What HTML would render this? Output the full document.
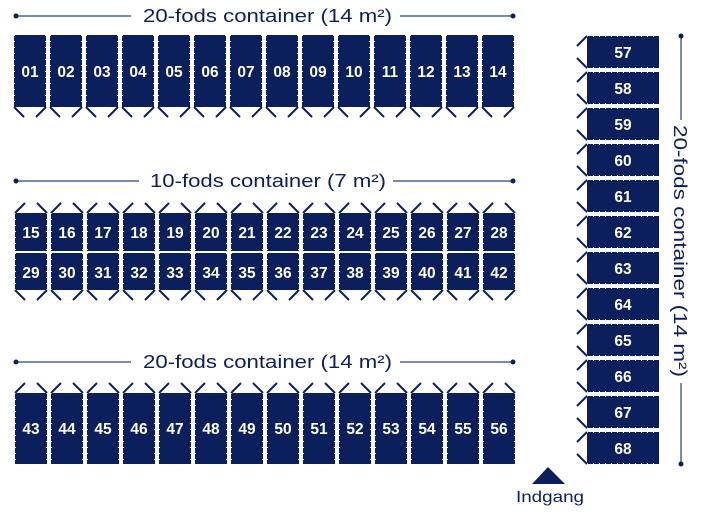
<!DOCTYPE html>
<html><head><meta charset="utf-8"><style>
html,body{margin:0;padding:0;background:#fff;}
svg{display:block}
text{font-family:"Liberation Sans",sans-serif;}
.n{fill:#fff;font-size:15.5px;text-anchor:middle;font-weight:bold;}
.h{fill:#0b1f5c;font-size:18px;}
</style></head><body>
<svg width="706" height="516" viewBox="0 0 706 516" xmlns="http://www.w3.org/2000/svg">
<defs>
<g id="b1"><rect x="0" y="0" width="32" height="72" fill="#0b1f5c"/><line x1="0.5" y1="0" x2="0.5" y2="72" stroke="#fff" stroke-dasharray="1 5"/><line x1="31.5" y1="0" x2="31.5" y2="72" stroke="#fff" stroke-dasharray="1 5"/><path d="M0 72 L10 82 M32 72 L22 82" stroke="#0b1f5c" stroke-width="2" fill="none"/></g>
<g id="b2"><rect x="0" y="0" width="32" height="38" fill="#0b1f5c"/><line x1="0.5" y1="0" x2="0.5" y2="38" stroke="#fff" stroke-dasharray="1 5"/><line x1="31.5" y1="0" x2="31.5" y2="38" stroke="#fff" stroke-dasharray="1 5"/><path d="M0 0 L10 -10 M32 0 L22 -10" stroke="#0b1f5c" stroke-width="2" fill="none"/></g>
<g id="b3"><rect x="0" y="0" width="32" height="37" fill="#0b1f5c"/><line x1="0.5" y1="0" x2="0.5" y2="37" stroke="#fff" stroke-dasharray="1 5"/><line x1="31.5" y1="0" x2="31.5" y2="37" stroke="#fff" stroke-dasharray="1 5"/><path d="M0 37 L10 47 M32 37 L22 47" stroke="#0b1f5c" stroke-width="2" fill="none"/></g>
<g id="b4"><rect x="0" y="0" width="32" height="71" fill="#0b1f5c"/><line x1="0.5" y1="0" x2="0.5" y2="71" stroke="#fff" stroke-dasharray="1 5"/><line x1="31.5" y1="0" x2="31.5" y2="71" stroke="#fff" stroke-dasharray="1 5"/><path d="M0 0 L10 -10 M32 0 L22 -10" stroke="#0b1f5c" stroke-width="2" fill="none"/></g>
<g id="r"><rect x="0" y="0" width="72" height="32" fill="#0b1f5c"/><line x1="0" y1="0.5" x2="72" y2="0.5" stroke="#fff" stroke-dasharray="1 5"/><line x1="0" y1="31.5" x2="72" y2="31.5" stroke="#fff" stroke-dasharray="1 5"/><path d="M0 0 L-10 10 M0 32 L-10 22" stroke="#0b1f5c" stroke-width="2" fill="none"/></g>
</defs>
<g stroke="#7b8bb0" stroke-width="2">
<line x1="16" y1="16" x2="131" y2="16"/><line x1="400" y1="16" x2="513" y2="16"/>
<line x1="16" y1="181" x2="139" y2="181"/><line x1="393" y1="181" x2="513" y2="181"/>
<line x1="16" y1="362" x2="131" y2="362"/><line x1="400" y1="362" x2="513" y2="362"/>
<line x1="681" y1="36" x2="681" y2="120"/><line x1="681" y1="383" x2="681" y2="464"/>
</g>
<g fill="#0b1f5c"><circle cx="16" cy="16" r="2.5"/><circle cx="513" cy="16" r="2.5"/><circle cx="16" cy="181" r="2.5"/><circle cx="513" cy="181" r="2.5"/><circle cx="16" cy="362" r="2.5"/><circle cx="513" cy="362" r="2.5"/><circle cx="681" cy="36" r="2.5"/><circle cx="681" cy="464" r="2.5"/></g>
<text class="h" x="143" y="22" textLength="249" lengthAdjust="spacingAndGlyphs">20-fods container (14 m²)</text>
<text class="h" x="150" y="187" textLength="236" lengthAdjust="spacingAndGlyphs">10-fods container (7 m²)</text>
<text class="h" x="143" y="368" textLength="249" lengthAdjust="spacingAndGlyphs">20-fods container (14 m²)</text>
<text class="h" transform="translate(674,125) rotate(90)" x="0" y="0" textLength="252" lengthAdjust="spacingAndGlyphs">20-fods container (14 m²)</text>

<use href="#b1" x="14" y="35"/><use href="#b1" x="50" y="35"/><use href="#b1" x="86" y="35"/><use href="#b1" x="122" y="35"/><use href="#b1" x="158" y="35"/><use href="#b1" x="194" y="35"/><use href="#b1" x="230" y="35"/><use href="#b1" x="266" y="35"/><use href="#b1" x="302" y="35"/><use href="#b1" x="338" y="35"/><use href="#b1" x="374" y="35"/><use href="#b1" x="410" y="35"/><use href="#b1" x="446" y="35"/><use href="#b1" x="482" y="35"/>
<use href="#b2" x="15" y="213"/><use href="#b2" x="51" y="213"/><use href="#b2" x="87" y="213"/><use href="#b2" x="123" y="213"/><use href="#b2" x="159" y="213"/><use href="#b2" x="195" y="213"/><use href="#b2" x="231" y="213"/><use href="#b2" x="267" y="213"/><use href="#b2" x="303" y="213"/><use href="#b2" x="339" y="213"/><use href="#b2" x="375" y="213"/><use href="#b2" x="411" y="213"/><use href="#b2" x="447" y="213"/><use href="#b2" x="483" y="213"/>
<use href="#b3" x="15" y="253"/><use href="#b3" x="51" y="253"/><use href="#b3" x="87" y="253"/><use href="#b3" x="123" y="253"/><use href="#b3" x="159" y="253"/><use href="#b3" x="195" y="253"/><use href="#b3" x="231" y="253"/><use href="#b3" x="267" y="253"/><use href="#b3" x="303" y="253"/><use href="#b3" x="339" y="253"/><use href="#b3" x="375" y="253"/><use href="#b3" x="411" y="253"/><use href="#b3" x="447" y="253"/><use href="#b3" x="483" y="253"/>
<use href="#b4" x="15" y="393"/><use href="#b4" x="51" y="393"/><use href="#b4" x="87" y="393"/><use href="#b4" x="123" y="393"/><use href="#b4" x="159" y="393"/><use href="#b4" x="195" y="393"/><use href="#b4" x="231" y="393"/><use href="#b4" x="267" y="393"/><use href="#b4" x="303" y="393"/><use href="#b4" x="339" y="393"/><use href="#b4" x="375" y="393"/><use href="#b4" x="411" y="393"/><use href="#b4" x="447" y="393"/><use href="#b4" x="483" y="393"/>
<use href="#r" x="587" y="36"/><use href="#r" x="587" y="72"/><use href="#r" x="587" y="108"/><use href="#r" x="587" y="144"/><use href="#r" x="587" y="180"/><use href="#r" x="587" y="216"/><use href="#r" x="587" y="252"/><use href="#r" x="587" y="288"/><use href="#r" x="587" y="324"/><use href="#r" x="587" y="360"/><use href="#r" x="587" y="396"/><use href="#r" x="587" y="432"/>

<g class="n">
<text class="n" x="30" y="77">01</text><text class="n" x="66" y="77">02</text><text class="n" x="102" y="77">03</text><text class="n" x="138" y="77">04</text><text class="n" x="174" y="77">05</text><text class="n" x="210" y="77">06</text><text class="n" x="246" y="77">07</text><text class="n" x="282" y="77">08</text><text class="n" x="318" y="77">09</text><text class="n" x="354" y="77">10</text><text class="n" x="390" y="77">11</text><text class="n" x="426" y="77">12</text><text class="n" x="462" y="77">13</text><text class="n" x="498" y="77">14</text>
<text class="n" x="31" y="238">15</text><text class="n" x="67" y="238">16</text><text class="n" x="103" y="238">17</text><text class="n" x="139" y="238">18</text><text class="n" x="175" y="238">19</text><text class="n" x="211" y="238">20</text><text class="n" x="247" y="238">21</text><text class="n" x="283" y="238">22</text><text class="n" x="319" y="238">23</text><text class="n" x="355" y="238">24</text><text class="n" x="391" y="238">25</text><text class="n" x="427" y="238">26</text><text class="n" x="463" y="238">27</text><text class="n" x="499" y="238">28</text>
<text class="n" x="31" y="278">29</text><text class="n" x="67" y="278">30</text><text class="n" x="103" y="278">31</text><text class="n" x="139" y="278">32</text><text class="n" x="175" y="278">33</text><text class="n" x="211" y="278">34</text><text class="n" x="247" y="278">35</text><text class="n" x="283" y="278">36</text><text class="n" x="319" y="278">37</text><text class="n" x="355" y="278">38</text><text class="n" x="391" y="278">39</text><text class="n" x="427" y="278">40</text><text class="n" x="463" y="278">41</text><text class="n" x="499" y="278">42</text>
<text class="n" x="31" y="434">43</text><text class="n" x="67" y="434">44</text><text class="n" x="103" y="434">45</text><text class="n" x="139" y="434">46</text><text class="n" x="175" y="434">47</text><text class="n" x="211" y="434">48</text><text class="n" x="247" y="434">49</text><text class="n" x="283" y="434">50</text><text class="n" x="319" y="434">51</text><text class="n" x="355" y="434">52</text><text class="n" x="391" y="434">53</text><text class="n" x="427" y="434">54</text><text class="n" x="463" y="434">55</text><text class="n" x="499" y="434">56</text>
<text class="n" x="623" y="58">57</text><text class="n" x="623" y="94">58</text><text class="n" x="623" y="130">59</text><text class="n" x="623" y="166">60</text><text class="n" x="623" y="202">61</text><text class="n" x="623" y="238">62</text><text class="n" x="623" y="274">63</text><text class="n" x="623" y="310">64</text><text class="n" x="623" y="346">65</text><text class="n" x="623" y="382">66</text><text class="n" x="623" y="418">67</text><text class="n" x="623" y="454">68</text>
</g>
<polygon points="532,484 548,467 565,484" fill="#0b1f5c"/>
<text x="550" y="502" fill="#0b1f5c" font-size="16" text-anchor="middle" textLength="68" lengthAdjust="spacingAndGlyphs">Indgang</text>
</svg>
</body></html>
